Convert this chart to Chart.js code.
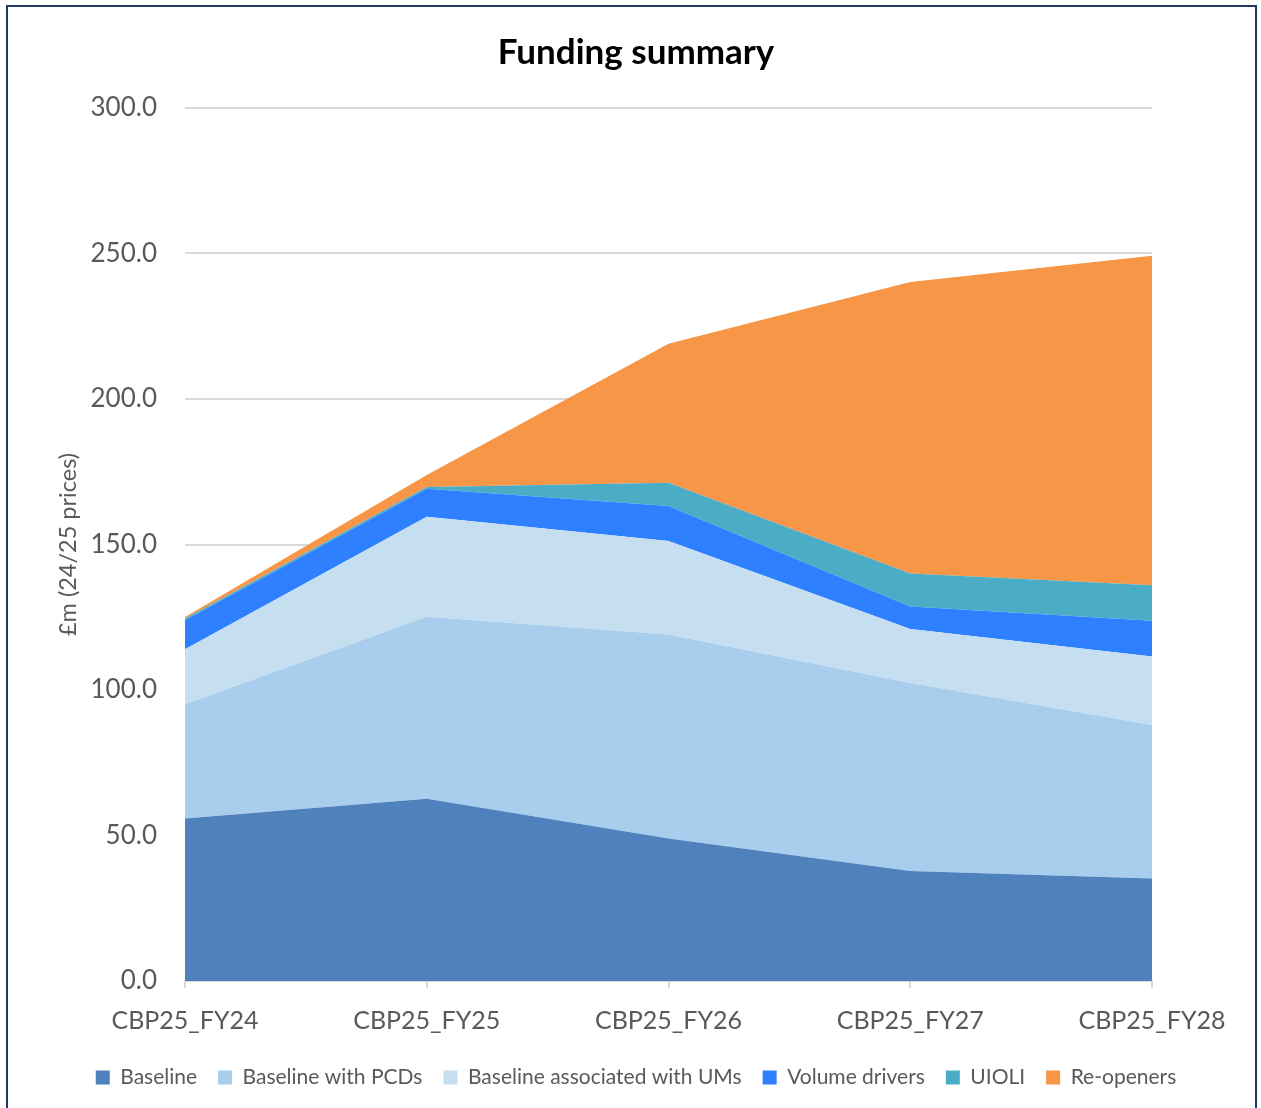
<!DOCTYPE html>
<html>
<head>
<meta charset="utf-8">
<script src="https://cdn.jsdelivr.net/npm/chart.js@4.4.1/dist/chart.umd.min.js"></script>
<style>
  html, body { margin: 0; padding: 0; background: #ffffff; overflow: hidden; }
  #wrap { position: relative; width: 1261px; height: 1108px; }
  #c { position: absolute; left: 0; top: 0; }
  #frame { position: absolute; left: 6px; top: 5px; width: 1247px; height: 1200px;
           border: 2px solid #1F3864; pointer-events: none; }
</style>
</head>
<body>
<div id="wrap">
  <canvas id="c" width="1261" height="1108"></canvas>
  <div id="frame"></div>
</div>
<script>
const categories = ['CBP25_FY24', 'CBP25_FY25', 'CBP25_FY26', 'CBP25_FY27', 'CBP25_FY28'];
const baseline      = [55.8, 62.6, 49.0, 37.8, 35.2];
const baselinePCDs  = [39.3, 62.6, 70.1, 64.6, 52.8];
const baselineUMs   = [18.9, 34.3, 32.1, 18.6, 23.5];
const volumeDrivers = [10.0, 9.7, 12.0, 7.7, 12.3];
const uioli         = [0.6, 0.6, 8.0, 11.3, 12.2];
const reopeners     = [0.5, 4.1, 47.8, 100.2, 113.2];
const yTicks = [0, 50, 100, 150, 200, 250, 300];

const seriesNames = ['Baseline', 'Baseline with PCDs', 'Baseline associated with UMs', 'Volume drivers', 'UIOLI', 'Re-openers'];
const seriesData = [baseline, baselinePCDs, baselineUMs, volumeDrivers, uioli, reopeners];
const seriesColors = ['#4F81BD', '#A9CDED', '#C5DFF1', '#2F80FF', '#4BACC6', '#F79646'];

const FONT = 'Lato, "Open Sans", sans-serif';

const datasets = seriesNames.map((name, i) => ({
  label: name,
  data: seriesData[i],
  backgroundColor: seriesColors[i],
  borderColor: seriesColors[i],
  borderWidth: 0,
  pointRadius: 0,
  pointHoverRadius: 0,
  tension: 0,
  fill: i === 0 ? 'origin' : '-1',
  yAxisID: 'y'
}));

new Chart(document.getElementById('c'), {
  type: 'line',
  data: { labels: categories, datasets },
  options: {
    responsive: false,
    animation: false,
    events: [],
    layout: { padding: { top: 32, left: 11, right: 0, bottom: 10 } },
    plugins: {
      title: {
        display: true,
        text: 'Funding summary',
        color: '#000000',
        font: { family: FONT, size: 35, weight: 'bold', lineHeight: 1.2 },
        padding: { top: 0, bottom: 34 }
      },
      legend: {
        display: true,
        position: 'bottom',
        labels: {
          color: '#595959',
          font: { family: FONT, size: 21 },
          boxWidth: 14,
          boxHeight: 14,
          padding: 21
        }
      },
      tooltip: { enabled: false }
    },
    scales: {
      x: {
        type: 'category',
        offset: false,
        grid: { display: true, drawOnChartArea: false, drawTicks: true, tickLength: 7, color: '#D9D9D9', lineWidth: 2 },
        border: { display: true, color: '#D9D9D9', width: 2 },
        ticks: { color: '#595959', font: { family: FONT, size: 25 }, padding: 18, maxRotation: 0, autoSkip: false },
        afterFit: (s) => { s.height = 65; }
      },
      y: {
        stacked: true,
        position: 'left',
        min: 0,
        max: 300,
        afterBuildTicks: (s) => { s.ticks = yTicks.map(v => ({ value: v })); },
        grid: { color: '#D9D9D9', lineWidth: 2, drawTicks: false },
        border: { display: false },
        ticks: { color: '#595959', font: { family: FONT, size: 26 }, padding: 28,
                 callback: (v) => Number(v).toFixed(1) },
        title: { display: true, text: '£m (24/25 prices)', color: '#595959',
                 font: { family: FONT, size: 23.5 }, padding: { top: 43, bottom: 0 } },
        afterFit: (s) => { s.width = 174; }
      },
      spacer: {
        type: 'linear',
        position: 'right',
        display: true,
        grid: { display: false, drawTicks: false },
        border: { display: false },
        ticks: { display: false },
        afterFit: (s) => { s.width = 109; }
      }
    }
  }
});
</script>
</body>
</html>
